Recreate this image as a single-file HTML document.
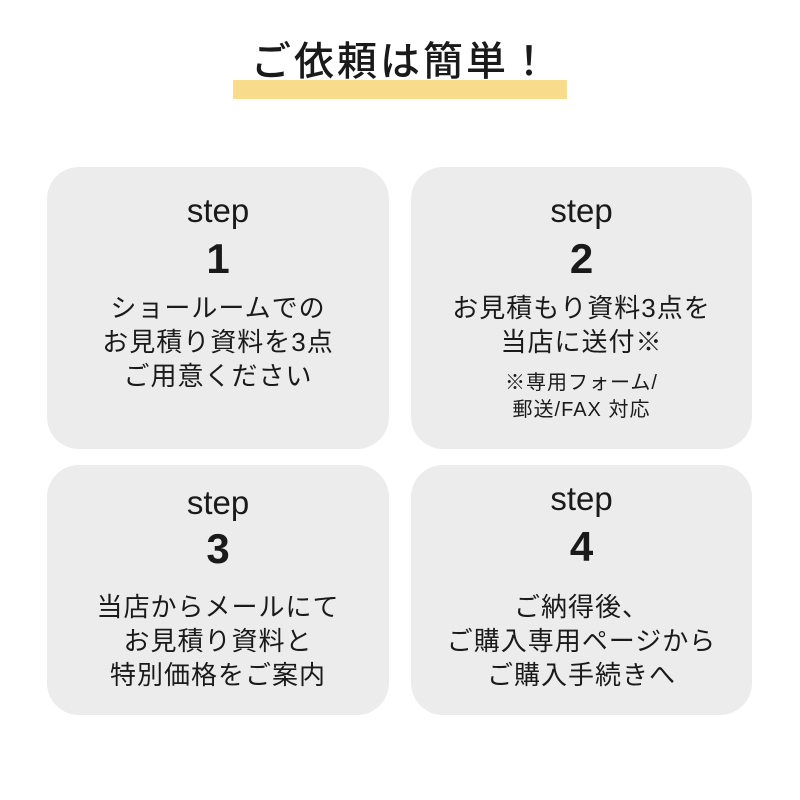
<!DOCTYPE html>
<html><head><meta charset="utf-8"><style>
body{margin:0;width:800px;height:800px;background:#fff;position:relative;overflow:hidden;font-family:"Liberation Sans","Noto Sans CJK JP",sans-serif;color:#1a1a1a}
.t{position:absolute;left:0;width:800px;text-align:center;white-space:nowrap;line-height:1}
.card{position:absolute;background:#ececec;border-radius:32px}
.l{position:absolute;text-align:center;white-space:nowrap;line-height:1}
.b{font-size:26px;letter-spacing:1px;line-height:34px}
</style></head><body>
<div style="position:absolute;left:233px;top:80px;width:334px;height:19px;background:#f8dc8c"></div>
<div class="t" style="top:42px;font-size:40px;font-weight:500;letter-spacing:3px;padding-left:3px;box-sizing:border-box">ご依頼は簡単！</div>

<div class="card" style="left:47px;top:167px;width:342px;height:282px"></div>
<div class="card" style="left:411px;top:167px;width:341px;height:282px"></div>
<div class="card" style="left:47px;top:465px;width:342px;height:250px"></div>
<div class="card" style="left:411px;top:465px;width:341px;height:250px"></div>

<div class="l" style="left:47px;width:342px;top:194px;font-size:33px">step</div>
<div class="l" style="left:47px;width:342px;top:238px;font-size:42px;font-weight:bold">1</div>
<div class="l b" style="left:47px;width:342px;top:291px">ショールームでの<br>お見積り資料を3点<br>ご用意ください</div>

<div class="l" style="left:411px;width:341px;top:194px;font-size:33px">step</div>
<div class="l" style="left:411px;width:341px;top:238px;font-size:42px;font-weight:bold">2</div>
<div class="l b" style="left:411px;width:341px;top:291px">お見積もり資料3点を<br>当店に送付※</div>
<div class="l" style="left:411px;width:341px;top:370px;font-size:20px;letter-spacing:1px;line-height:27px">※専用フォーム/<br>郵送/FAX 対応</div>

<div class="l" style="left:47px;width:342px;top:486px;font-size:33px">step</div>
<div class="l" style="left:47px;width:342px;top:528px;font-size:42px;font-weight:bold">3</div>
<div class="l b" style="left:47px;width:342px;top:590px">当店からメールにて<br>お見積り資料と<br>特別価格をご案内</div>

<div class="l" style="left:411px;width:341px;top:482px;font-size:33px">step</div>
<div class="l" style="left:411px;width:341px;top:526px;font-size:42px;font-weight:bold">4</div>
<div class="l b" style="left:411px;width:341px;top:590px">ご納得後、<br>ご購入専用ページから<br>ご購入手続きへ</div>
</body></html>
